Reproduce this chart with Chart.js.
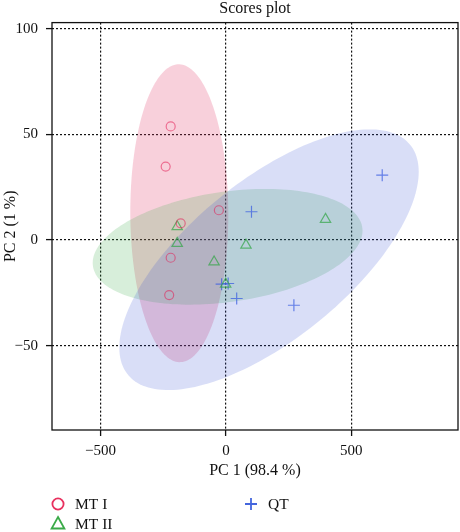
<!DOCTYPE html>
<html>
<head>
<meta charset="utf-8">
<script src="https://cdn.jsdelivr.net/npm/chart.js@4.4.0/dist/chart.umd.min.js"></script>
<style>
  html, body { margin: 0; padding: 0; background: #fff; }
</style>
</head>
<body>
<canvas id="scores" width="460" height="532"></canvas>
<script>
// groups and their PCA scores
const groups = ['MT I', 'MT II', 'QT'];
const mt1X = [-220, -240, -28, -180, -220, -226];
const mt1Y = [53.8, 34.8, 14.1, 7.9, -8.4, -26.1];
const mt2X = [-194, -194, 80, -47, 397, -1];
const mt2Y = [6.3, -1.6, -2.4, -10.4, 9.8, -20.9];
const qtX = [623, 102, -17, 9, 43, 271];
const qtY = [30.7, 13.4, -20.9, -20.6, -27.7, -30.9];
const xTicks = [-500, 0, 500];
const yTicks = [-50, 0, 50, 100];

const SERIF = '"Liberation Serif", "DejaVu Serif", serif';
const CHI2_95 = 5.991; // 95% ellipse, 2 df

function toPoints(xs, ys) {
  return xs.map((x, i) => ({ x: x, y: ys[i] }));
}

function minus(v) {
  return String(v).replace('-', '\u2212');
}

// confidence ellipses, computed from each group's points
const ellipsePlugin = {
  id: 'ellipses',
  beforeDatasetsDraw(chart) {
    const { ctx, chartArea, scales } = chart;
    ctx.save();
    ctx.beginPath();
    ctx.rect(chartArea.left, chartArea.top, chartArea.width, chartArea.height);
    ctx.clip();
    chart.data.datasets.forEach(ds => {
      const pts = ds.data;
      const n = pts.length;
      const mx = pts.reduce((s, p) => s + p.x, 0) / n;
      const my = pts.reduce((s, p) => s + p.y, 0) / n;
      let sxx = 0, syy = 0, sxy = 0;
      pts.forEach(p => {
        sxx += (p.x - mx) * (p.x - mx);
        syy += (p.y - my) * (p.y - my);
        sxy += (p.x - mx) * (p.y - my);
      });
      sxx /= n - 1; syy /= n - 1; sxy /= n - 1;
      const tr = sxx + syy;
      const det = sxx * syy - sxy * sxy;
      const d = Math.sqrt(Math.max(tr * tr / 4 - det, 0));
      const l1 = tr / 2 + d, l2 = Math.max(tr / 2 - d, 0);
      const theta = 0.5 * Math.atan2(2 * sxy, sxx - syy);
      const a = Math.sqrt(CHI2_95 * l1), b = Math.sqrt(CHI2_95 * l2);
      ctx.beginPath();
      for (let i = 0; i <= 180; i++) {
        const t = i / 180 * Math.PI * 2;
        const u = a * Math.cos(t), v = b * Math.sin(t);
        const px = scales.x.getPixelForValue(mx + u * Math.cos(theta) - v * Math.sin(theta));
        const py = scales.y.getPixelForValue(my + u * Math.sin(theta) + v * Math.cos(theta));
        if (i === 0) ctx.moveTo(px, py); else ctx.lineTo(px, py);
      }
      ctx.closePath();
      ctx.fillStyle = ds.ellipseColor;
      ctx.fill();
    });
    ctx.restore();
  }
};

// frame round the plot and the legend under it
const framePlugin = {
  id: 'frame',
  afterDraw(chart) {
    const { ctx, chartArea } = chart;
    ctx.save();
    ctx.strokeStyle = '#111';
    ctx.lineWidth = 1.3;
    ctx.strokeRect(chartArea.left, chartArea.top, chartArea.width, chartArea.height);

    const items = [
      { ds: 0, x: 58, y: 504 },
      { ds: 1, x: 58, y: 524 },
      { ds: 2, x: 251, y: 504 }
    ];
    ctx.font = '15.5px ' + SERIF;
    ctx.textBaseline = 'middle';
    ctx.textAlign = 'left';
    items.forEach(it => {
      const ds = chart.data.datasets[it.ds];
      ctx.strokeStyle = ds.legendColor;
      ctx.lineWidth = 1.8;
      ctx.beginPath();
      if (ds.pointStyle === 'circle') {
        ctx.arc(it.x, it.y, 5.6, 0, Math.PI * 2);
      } else if (ds.pointStyle === 'triangle') {
        ctx.moveTo(it.x, it.y - 7);
        ctx.lineTo(it.x + 6.4, it.y + 4.5);
        ctx.lineTo(it.x - 6.4, it.y + 4.5);
        ctx.closePath();
      } else {
        ctx.moveTo(it.x - 6, it.y); ctx.lineTo(it.x + 6, it.y);
        ctx.moveTo(it.x, it.y - 6); ctx.lineTo(it.x, it.y + 6);
      }
      ctx.stroke();
      ctx.fillStyle = '#111';
      ctx.fillText(ds.label, it.x + 17, it.y + 1);
    });
    ctx.restore();
  }
};

new Chart(document.getElementById('scores'), {
  type: 'scatter',
  data: {
    datasets: [
      {
        label: groups[0],
        data: toPoints(mt1X, mt1Y),
        pointStyle: 'circle',
        pointRadius: 4.5,
        borderWidth: 1.2,
        borderColor: 'rgba(228, 30, 85, 0.55)',
        backgroundColor: 'rgba(0,0,0,0)',
        ellipseColor: 'rgba(225, 60, 105, 0.24)',
        legendColor: '#e8305e'
      },
      {
        label: groups[1],
        data: toPoints(mt2X, mt2Y),
        pointStyle: 'triangle',
        pointRadius: 6,
        borderWidth: 1.2,
        borderColor: 'rgba(50, 165, 70, 0.7)',
        backgroundColor: 'rgba(0,0,0,0)',
        ellipseColor: 'rgba(55, 170, 70, 0.2)',
        legendColor: '#3aaa48'
      },
      {
        label: groups[2],
        data: toPoints(qtX, qtY),
        pointStyle: 'cross',
        pointRadius: 6,
        borderWidth: 1.2,
        borderColor: 'rgba(60, 95, 225, 0.75)',
        backgroundColor: 'rgba(0,0,0,0)',
        ellipseColor: 'rgba(55, 80, 210, 0.19)',
        legendColor: '#4466dd'
      }
    ]
  },
  options: {
    responsive: false,
    animation: false,
    devicePixelRatio: 1,
    layout: { autoPadding: false, padding: { left: 0, right: 2, top: 0, bottom: 47 } },
    plugins: {
      legend: { display: false },
      tooltip: { enabled: false },
      title: {
        display: true,
        text: 'Scores plot',
        fullSize: false,
        color: '#111',
        font: { family: SERIF, size: 16, weight: 'normal', lineHeight: 1.1 },
        padding: { top: 0, bottom: 5 }
      }
    },
    scales: {
      x: {
        type: 'linear',
        min: -693,
        max: 925,
        afterBuildTicks: s => { s.ticks = xTicks.map(v => ({ value: v })); },
        afterFit: s => { s.height = 55; s.paddingLeft = 0; s.paddingRight = 0; },
        grid: { color: '#111', lineWidth: 1.2, tickLength: 6, tickColor: '#111', tickWidth: 1.3 },
        border: { display: false, dash: [2, 2] },
        ticks: {
          color: '#111',
          padding: 6,
          maxRotation: 0,
          font: { family: SERIF, size: 15 },
          callback: v => minus(v)
        },
        title: {
          display: true,
          text: 'PC 1 (98.4 %)',
          color: '#111',
          font: { family: SERIF, size: 16, lineHeight: 1.2 },
          padding: { top: 0, bottom: 5 }
        }
      },
      y: {
        type: 'linear',
        min: -90,
        max: 103,
        afterBuildTicks: s => { s.ticks = yTicks.map(v => ({ value: v })); },
        afterFit: s => { s.width = 52; s.paddingTop = 0; s.paddingBottom = 0; },
        grid: { color: '#111', lineWidth: 1.2, tickLength: 6, tickColor: '#111', tickWidth: 1.3 },
        border: { display: false, dash: [2, 2] },
        ticks: {
          color: '#111',
          padding: 8,
          font: { family: SERIF, size: 15 },
          callback: v => minus(v)
        },
        title: {
          display: true,
          text: 'PC 2 (1 %)',
          color: '#111',
          font: { family: SERIF, size: 16, lineHeight: 1.2 },
          padding: { top: 1, bottom: 0 }
        }
      }
    }
  },
  plugins: [ellipsePlugin, framePlugin]
});
</script>
</body>
</html>
